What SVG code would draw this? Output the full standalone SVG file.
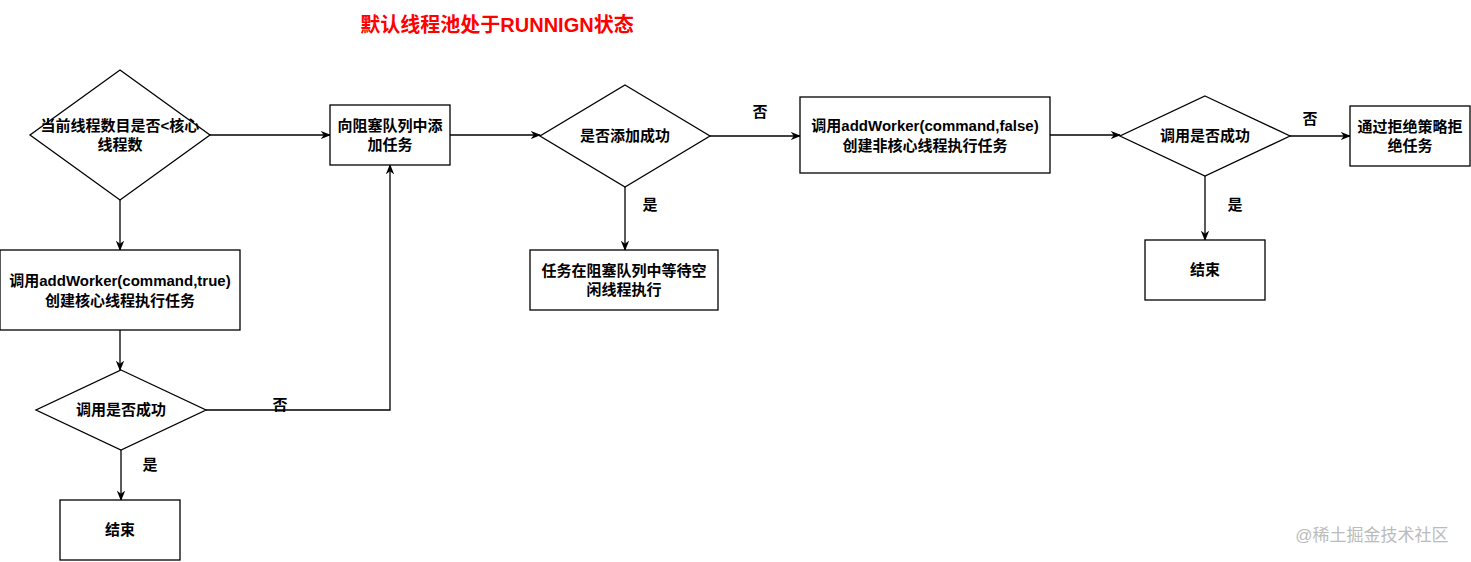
<svg xmlns="http://www.w3.org/2000/svg" width="1471" height="562" viewBox="0 0 1471 562">
<defs>
<marker id="a" viewBox="0 0 10 10" refX="9" refY="5" markerWidth="8" markerHeight="8" orient="auto"><path d="M0,1 L10,5 L0,9 L3,5 Z" fill="#000"/></marker>
<style>
.s{fill:#fff;stroke:#000;stroke-width:1.3}
.t{font-family:"Liberation Sans","Noto Sans CJK SC",sans-serif;font-size:15px;font-weight:bold;text-anchor:middle;fill:#000}
.c{fill:none;stroke:#000;stroke-width:1.3;marker-end:url(#a)}
</style>
</defs>
<rect width="1471" height="562" fill="#fff"/>
<text x="497" y="32" font-family="Liberation Sans,'Noto Sans CJK SC',sans-serif" font-size="20" font-weight="bold" fill="#f00" text-anchor="middle">默认线程池处于RUNNIGN状态</text>
<g id="connectors">
<path class="c" d="M210,135 H330"/>
<path class="c" d="M120,200 V250"/>
<path class="c" d="M120,330 V370"/>
<path class="c" d="M206,410 H390 V165"/>
<path class="c" d="M121,450 V500"/>
<path class="c" d="M450,135 H540"/>
<path class="c" d="M710,136 H800"/>
<path class="c" d="M625,187 V250"/>
<path class="c" d="M1050,135 H1120"/>
<path class="c" d="M1290,136 H1350"/>
<path class="c" d="M1205,176 V240"/>
<text class="t" x="280" y="410">否</text>
<text class="t" x="150" y="470">是</text>
<text class="t" x="760" y="117">否</text>
<text class="t" x="650" y="210">是</text>
<text class="t" x="1310" y="124">否</text>
<text class="t" x="1235" y="210">是</text>
</g>
<g id="d1"><path class="s" d="M120,70 L210,135 L120,200 L30,135 Z"/><text class="t" x="120" y="131">当前线程数目是否&lt;核心</text><text class="t" x="120" y="150">线程数</text></g>
<g id="q1"><rect class="s" x="330" y="105" width="120" height="60"/><text class="t" x="390" y="131">向阻塞队列中添</text><text class="t" x="390" y="150">加任务</text></g>
<g id="w1"><rect class="s" x="0" y="250" width="240" height="80"/><text class="t" x="120" y="286">调用addWorker(command,true)</text><text class="t" x="120" y="306">创建核心线程执行任务</text></g>
<g id="d2"><path class="s" d="M121,370 L206,410 L121,450 L36,410 Z"/><text class="t" x="121" y="415">调用是否成功</text></g>
<g id="e1"><rect class="s" x="60" y="500" width="120" height="60"/><text class="t" x="120" y="535">结束</text></g>
<g id="d3"><path class="s" d="M625,85 L710,136 L625,187 L540,136 Z"/><text class="t" x="625" y="141">是否添加成功</text></g>
<g id="wq"><rect class="s" x="530" y="250" width="188" height="60"/><text class="t" x="624" y="276">任务在阻塞队列中等待空</text><text class="t" x="624" y="295">闲线程执行</text></g>
<g id="w2"><rect class="s" x="800" y="97" width="250" height="76"/><text class="t" x="925" y="131">调用addWorker(command,false)</text><text class="t" x="925" y="151">创建非核心线程执行任务</text></g>
<g id="d4"><path class="s" d="M1205,96 L1290,136 L1205,176 L1120,136 Z"/><text class="t" x="1205" y="141">调用是否成功</text></g>
<g id="rj"><rect class="s" x="1350" y="106" width="120" height="60"/><text class="t" x="1410" y="132">通过拒绝策略拒</text><text class="t" x="1410" y="151">绝任务</text></g>
<g id="e2"><rect class="s" x="1145" y="240" width="120" height="60"/><text class="t" x="1205" y="275">结束</text></g>
<text x="1372" y="541" font-family="Liberation Sans,'Noto Sans CJK SC',sans-serif" font-size="17" fill="#bbb" text-anchor="middle">@稀土掘金技术社区</text>
</svg>
